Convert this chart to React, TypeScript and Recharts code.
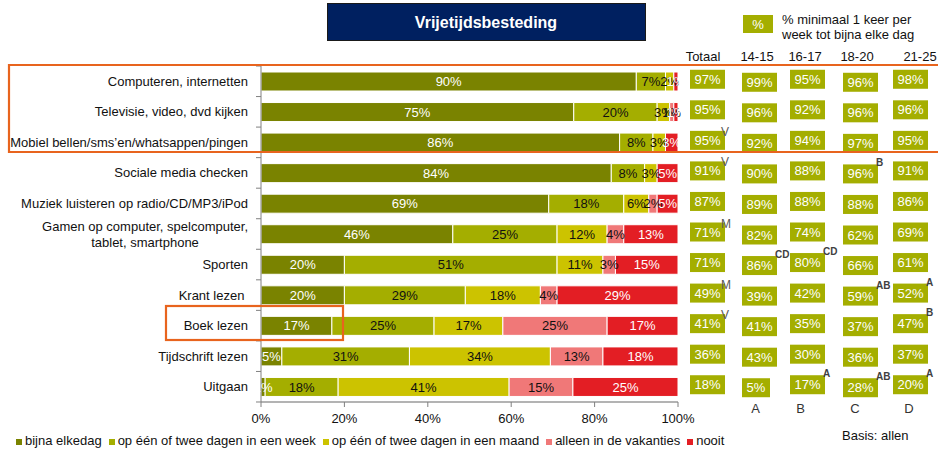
import React from 'react';
import { BarChart, Bar, XAxis, YAxis, LabelList, Legend } from 'recharts';

const categories = [
  'Computeren, internetten',
  'Televisie, video, dvd kijken',
  'Mobiel bellen/sms’en/whatsappen/pingen',
  'Sociale media checken',
  'Muziek luisteren op radio/CD/MP3/iPod',
  'Gamen op computer, spelcomputer,\ntablet, smartphone',
  'Sporten',
  'Krant lezen\u00A0',
  'Boek lezen',
  'Tijdschrift lezen',
  'Uitgaan',
];

const bijnaElkeDag = [90, 75, 86, 84, 69, 46, 20, 20, 17, 5, 1];
const weekDagen = [7, 20, 8, 8, 18, 25, 51, 29, 24.5, 30.6, 17.5];
const maandDagen = [2, 3, 3, 3, 6, 12, 11, 18, 16.5, 33.8, 41];
const vakanties = [0, 1, 0, 0, 2, 4, 3, 4, 25, 12.6, 15.3];
const nooit = [1, 1, 3, 5, 5, 13, 15, 29, 17, 18, 25.2];

const seriesNames = [
  'bijna elkedag',
  'op één of twee dagen in een week',
  'op één of twee dagen in een maand',
  'alleen in de vakanties',
  'nooit',
];
const seriesColors = ['#7A8300', '#A4AE00', '#CCC300', '#F07878', '#E31E24'];
const labelColors = ['#FFFFFF', '#111111', '#111111', '#111111', '#FFFFFF'];

const xTicks = [0, 20, 40, 60, 80, 100];

const columnHeaders = ['Totaal', '14-15', '16-17', '18-20', '21-25'];
const columnLetters = ['', 'A', 'B', 'C', 'D'];

const totaal = [97, 95, 95, 91, 87, 71, 71, 49, 41, 36, 18];
const leeftijd1415 = [99, 96, 92, 90, 89, 82, 86, 39, 41, 43, 5];
const leeftijd1617 = [95, 92, 94, 88, 88, 74, 80, 42, 35, 30, 17];
const leeftijd1820 = [96, 96, 97, 96, 88, 62, 66, 59, 37, 36, 28];
const leeftijd2125 = [98, 96, 95, 91, 86, 69, 61, 52, 47, 37, 20];

const sigTotaal = ['', '', 'V', 'V', '', 'M', '', 'M', 'V', '', ''];
const sig1415 = ['', '', '', '', '', '', 'CD', '', '', '', ''];
const sig1617 = ['', '', '', '', '', '', 'CD', '', '', '', 'A'];
const sig1820 = ['', '', '', 'B', '', '', '', 'AB', '', '', 'AB'];
const sig2125 = ['', '', '', '', '', '', '', 'A', 'B', '', 'A'];

const data = categories.map((name, i) => ({
  name,
  s0: bijnaElkeDag[i],
  s1: weekDagen[i],
  s2: maandDagen[i],
  s3: vakanties[i],
  s4: nooit[i],
}));

const FONT = "'Liberation Sans', Arial, sans-serif";
const W = 938;
const H = 450;
const AXIS_X = 261;
const HALF_BAND = 15.27;
const BOX_GREEN = '#A4AE00';

const tableColumns = [
  { values: totaal, sig: sigTotaal, left: 690, dy: -11.5, plain: true },
  { values: leeftijd1415, sig: sig1415, left: 742, dy: -8.5, plain: false },
  { values: leeftijd1617, sig: sig1617, left: 790, dy: -11.5, plain: false },
  { values: leeftijd1820, sig: sig1820, left: 843, dy: -8.5, plain: false },
  { values: leeftijd2125, sig: sig2125, left: 893, dy: -11.5, plain: false },
];

let measureCtx: CanvasRenderingContext2D | null = null;
function measure(text: string): number {
  if (typeof document === 'undefined') return text.length * 6.5;
  if (!measureCtx) {
    const c = document.createElement('canvas');
    measureCtx = c.getContext('2d');
  }
  if (!measureCtx) return text.length * 6.5;
  measureCtx.font = `13px ${FONT}`;
  return measureCtx.measureText(text).width;
}

const CategoryTick = (props: any) => {
  const { y, payload } = props;
  const value = String(payload.value);
  let i = categories.indexOf(value);
  if (i < 0) i = payload.index ?? 0;
  const lines = value.split('\n');
  const right = 248;
  let textEls: React.ReactNode;
  if (lines.length === 1) {
    textEls = (
      <text x={right} y={y + 4.5} textAnchor="end" fontSize={13} fill="#111">
        {value}
      </text>
    );
  } else {
    const w = Math.max(...lines.map(measure));
    const cx = right - w / 2;
    textEls = lines.map((l, k) => (
      <text key={k} x={cx} y={y + 4.5 + (k - (lines.length - 1) / 2) * 16} textAnchor="middle" fontSize={13} fill="#111">
        {l}
      </text>
    ));
  }
  return (
    <g>
      <line x1={AXIS_X - 5} x2={AXIS_X} y1={y - HALF_BAND} y2={y - HALF_BAND} stroke="#808080" />
      {i === categories.length - 1 && (
        <line x1={AXIS_X - 5} x2={AXIS_X} y1={y + HALF_BAND} y2={y + HALF_BAND} stroke="#808080" />
      )}
      {textEls}
      {tableColumns.map((col, c) => {
        const v = col.values[i];
        const label = `${v}%`;
        const bw = label.length <= 2 ? 28 : 35;
        const top = y + col.dy;
        const sig = col.sig[i];
        return (
          <g key={c}>
            <rect x={col.left} y={top} width={bw} height={19} fill={BOX_GREEN} />
            <text x={col.left + bw / 2} y={top + 14} textAnchor="middle" fontSize={13} fill="#FFFFFF">
              {label}
            </text>
            {sig && col.plain && (
              <text x={col.left + bw - 4} y={top + 5} fontSize={12} fill="#595959">
                {sig}
              </text>
            )}
            {sig && !col.plain && (
              <text x={col.left + bw - 2} y={top + 2} fontSize={10} fontWeight="bold" fill="#404040">
                {sig}
              </text>
            )}
          </g>
        );
      })}
    </g>
  );
};

const LegendContent = () => (
  <div style={{ display: 'flex', alignItems: 'center', height: 20, paddingLeft: 16, fontSize: 13, color: '#111', whiteSpace: 'nowrap', fontFamily: FONT, position: 'relative', top: 2 }}>
    {seriesNames.map((n, i) => (
      <span key={n} style={{ display: 'inline-flex', alignItems: 'center', marginRight: 7 }}>
        <span style={{ display: 'inline-block', width: 6, height: 6, background: seriesColors[i], marginRight: 3, position: 'relative', top: 2 }} />
        {n}
      </span>
    ))}
  </div>
);

const fmt = (v: any) => {
  const n = Number(v);
  if (!n) return '';
  return `${Math.round(n)}%`;
};

const ORANGE = '#E8641E';

export default function App() {
  const keys = ['s0', 's1', 's2', 's3', 's4'];
  return (
    <div style={{ position: 'absolute', left: 0, top: 0, width: W, height: H, background: '#fff', fontFamily: FONT, overflow: 'hidden' }}>
      <BarChart
        width={W}
        height={H}
        data={data}
        layout="vertical"
        margin={{ top: 66, right: 260, left: 0, bottom: 2 }}
        barSize={19}
      >
        <XAxis
          type="number"
          domain={[0, 100]}
          ticks={xTicks}
          tickFormatter={(v: number) => `${v}%`}
          height={26}
          axisLine={{ stroke: '#9A9A9A', strokeWidth: 1.5 }}
          tickLine={{ stroke: '#808080' }}
          tickSize={5}
          tickMargin={7}
          tick={{ fontSize: 13, fill: '#111' }}
          allowDataOverflow
        />
        <YAxis
          type="category"
          dataKey="name"
          width={261}
          axisLine={{ stroke: '#808080' }}
          tickLine={false}
          tick={<CategoryTick />}
          interval={0}
        />
        <Legend verticalAlign="bottom" align="left" height={20} content={<LegendContent />} />
        {keys.map((k, idx) => (
          <Bar
            key={k}
            dataKey={k}
            name={seriesNames[idx]}
            stackId="a"
            fill={seriesColors[idx]}
            stroke="#FFFFFF"
            strokeWidth={1}
            isAnimationActive={false}
          >
            <LabelList dataKey={k} position="center" fill={labelColors[idx]} fontSize={13} formatter={fmt} />
          </Bar>
        ))}
      </BarChart>
      <svg width={W} height={H} style={{ position: 'absolute', left: 0, top: 0, pointerEvents: 'none', fontFamily: FONT }}>
        <rect x={327.5} y={3.5} width={318} height={37} fill="#002060" stroke="#1A1A1A" />
        <text x={486} y={28} textAnchor="middle" fontSize={16} fontWeight="bold" fill="#FFFFFF">
          Vrijetijdsbesteding
        </text>
        <rect x={743} y={15} width={30} height={18} fill={BOX_GREEN} />
        <text x={758} y={29} textAnchor="middle" fontSize={13} fill="#FFFFFF">%</text>
        <text x={782} y={24} fontSize={13} fill="#111">% minimaal 1 keer per</text>
        <text x={782} y={39} fontSize={13} fill="#111">week tot bijna elke dag</text>
        {columnHeaders.map((h, c) => (
          <text key={h} x={[703, 757, 805, 857, 920][c]} y={61} textAnchor="middle" fontSize={13} fill="#111">
            {h}
          </text>
        ))}
        {columnLetters.map((l, c) =>
          l ? (
            <text key={c} x={[0, 755.5, 800.5, 855, 909][c]} y={413} textAnchor="middle" fontSize={13} fill="#333">
              {l}
            </text>
          ) : null
        )}
        <text x={842} y={440} fontSize={13} fill="#111">Basis: allen</text>
        <path d={`M ${W} 65 H 9 V 152 H ${W}`} fill="none" stroke={ORANGE} strokeWidth={2.2} />
        <rect x={166} y={306} width={177} height={34} fill="none" stroke={ORANGE} strokeWidth={2.2} />
      </svg>
    </div>
  );
}
